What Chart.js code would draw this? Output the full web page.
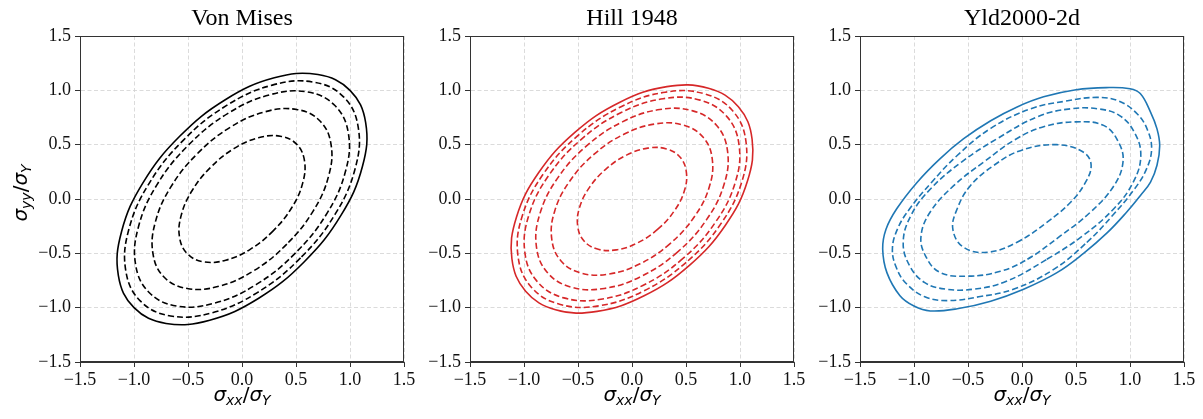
<!DOCTYPE html>
<html><head><meta charset="utf-8">
<script src="https://cdn.jsdelivr.net/npm/chart.js@4.4.1/dist/chart.umd.min.js"></script>
<style>
html,body{margin:0;padding:0;background:#fff;}
#wrap{position:relative;width:1203px;height:419px;overflow:hidden;background:#fff;}
#wrap canvas{position:absolute;top:0;}
</style></head><body>
<div id="wrap">
<canvas id="c1" width="420" height="419" style="left:0px"></canvas>
<canvas id="c2" width="390" height="419" style="left:420px"></canvas>
<canvas id="c3" width="393" height="419" style="left:810px"></canvas>
</div>
<script>
// ---------- labels ----------
const panelTitles = ['Von Mises', 'Hill 1948', 'Yld2000-2d'];
const tickValues = [-1.5, -1.0, -0.5, 0.0, 0.5, 1.0, 1.5];
const xAxisParts = [['σ', 'i'], ['xx', 's'], ['/', 'n'], ['σ', 'i'], ['Y', 's']];
const yAxisParts = [['σ', 'i'], ['yy', 's'], ['/', 'n'], ['σ', 'i'], ['Y', 's']];

// ---------- Von Mises contours (solid outer, dashed inner), closed loops ----------
const vonMises1 = [[0.577,-0.577],[0.151,-0.916],[-0.299,-1.115],[-0.703,-1.145],[-1.000,-1.000],[-1.145,-0.703],[-1.115,-0.299],[-0.916,0.151],[-0.577,0.577],[-0.151,0.916],[0.299,1.115],[0.703,1.145],[1.000,1.000],[1.145,0.703],[1.115,0.299],[0.916,-0.151]];
const vonMises2 = [[0.542,-0.542],[0.142,-0.861],[-0.281,-1.048],[-0.661,-1.076],[-0.940,-0.940],[-1.076,-0.661],[-1.048,-0.281],[-0.861,0.142],[-0.542,0.542],[-0.142,0.861],[0.281,1.048],[0.661,1.076],[0.940,0.940],[1.076,0.661],[1.048,0.281],[0.861,-0.142]];
const vonMises3 = [[0.496,-0.496],[0.130,-0.788],[-0.257,-0.959],[-0.605,-0.985],[-0.860,-0.860],[-0.985,-0.605],[-0.959,-0.257],[-0.788,0.130],[-0.496,0.496],[-0.130,0.788],[0.257,0.959],[0.605,0.985],[0.860,0.860],[0.985,0.605],[0.959,0.257],[0.788,-0.130]];
const vonMises4 = [[0.415,-0.415],[0.109,-0.660],[-0.215,-0.803],[-0.506,-0.824],[-0.720,-0.720],[-0.824,-0.506],[-0.803,-0.215],[-0.660,0.109],[-0.415,0.415],[-0.109,0.660],[0.215,0.803],[0.506,0.824],[0.720,0.720],[0.824,0.506],[0.803,0.215],[0.660,-0.109]];
const vonMises5 = [[0.291,-0.291],[0.076,-0.463],[-0.151,-0.563],[-0.355,-0.578],[-0.505,-0.505],[-0.578,-0.355],[-0.563,-0.151],[-0.463,0.076],[-0.291,0.291],[-0.076,0.463],[0.151,0.563],[0.355,0.578],[0.505,0.505],[0.578,0.355],[0.563,0.151],[0.463,-0.076]];

// ---------- Hill 1948 contours ----------
const hill1 = [[0.529,-0.613],[0.112,-0.891],[-0.323,-1.034],[-0.708,-1.019],[-0.985,-0.849],[-1.112,-0.550],[-1.070,-0.167],[-0.865,0.241],[-0.529,0.613],[-0.112,0.891],[0.323,1.034],[0.708,1.019],[0.985,0.849],[1.112,0.550],[1.070,0.167],[0.865,-0.241]];
const hill2 = [[0.502,-0.583],[0.106,-0.847],[-0.307,-0.983],[-0.672,-0.968],[-0.936,-0.807],[-1.056,-0.522],[-1.017,-0.159],[-0.822,0.229],[-0.502,0.583],[-0.106,0.847],[0.307,0.983],[0.672,0.968],[0.936,0.807],[1.056,0.522],[1.017,0.159],[0.822,-0.229]];
const hill3 = [[0.472,-0.547],[0.100,-0.796],[-0.288,-0.923],[-0.631,-0.910],[-0.879,-0.758],[-0.992,-0.491],[-0.955,-0.149],[-0.772,0.215],[-0.472,0.547],[-0.100,0.796],[0.288,0.923],[0.631,0.910],[0.879,0.758],[0.992,0.491],[0.955,0.149],[0.772,-0.215]];
const hill4 = [[0.421,-0.488],[0.089,-0.710],[-0.257,-0.823],[-0.563,-0.811],[-0.784,-0.676],[-0.885,-0.438],[-0.852,-0.133],[-0.689,0.192],[-0.421,0.488],[-0.089,0.710],[0.257,0.823],[0.563,0.811],[0.784,0.676],[0.885,0.438],[0.852,0.133],[0.689,-0.192]];
const hill5 = [[0.353,-0.410],[0.075,-0.596],[-0.216,-0.691],[-0.473,-0.681],[-0.659,-0.568],[-0.743,-0.368],[-0.716,-0.112],[-0.579,0.161],[-0.353,0.410],[-0.075,0.596],[0.216,0.691],[0.473,0.681],[0.659,0.568],[0.743,0.368],[0.716,0.112],[0.579,-0.161]];
const hill6 = [[0.239,-0.278],[0.051,-0.404],[-0.146,-0.468],[-0.320,-0.461],[-0.446,-0.384],[-0.503,-0.249],[-0.485,-0.076],[-0.392,0.109],[-0.239,0.278],[-0.051,0.404],[0.146,0.468],[0.320,0.461],[0.446,0.384],[0.503,0.249],[0.485,0.076],[0.392,-0.109]];

// ---------- Yld2000-2d contours ----------
const yld1 = [[0.57,-0.50],[0.79,-0.31],[0.97,-0.12],[1.095,0.03],[1.19,0.155],[1.25,0.31],[1.275,0.49],[1.25,0.645],[1.19,0.80],[1.095,0.97],[1.00,1.015],[0.78,1.025],[0.50,1.005],[0.20,0.94],[-0.05,0.845],[-0.29,0.72],[-0.54,0.555],[-0.76,0.37],[-0.97,0.155],[-1.16,-0.09],[-1.26,-0.28],[-1.29,-0.46],[-1.25,-0.68],[-1.13,-0.89],[-1.00,-0.985],[-0.85,-1.03],[-0.60,-1.01],[-0.29,-0.94],[0.015,-0.83],[0.32,-0.68]];
const yld2 = [[0.60,-0.40],[0.84,-0.15],[1.04,0.09],[1.15,0.27],[1.20,0.46],[1.16,0.64],[1.07,0.78],[0.90,0.90],[0.69,0.935],[0.40,0.90],[0.08,0.83],[-0.29,0.65],[-0.60,0.40],[-0.84,0.15],[-1.04,-0.09],[-1.15,-0.27],[-1.20,-0.46],[-1.16,-0.64],[-1.07,-0.78],[-0.90,-0.90],[-0.69,-0.935],[-0.40,-0.90],[-0.08,-0.83],[0.29,-0.65]];
const yld3 = [[0.23,-0.555],[0.56,-0.34],[0.85,-0.09],[1.03,0.155],[1.10,0.40],[1.04,0.615],[0.90,0.77],[0.70,0.83],[0.45,0.83],[0.15,0.76],[-0.23,0.555],[-0.56,0.34],[-0.85,0.09],[-1.03,-0.155],[-1.10,-0.40],[-1.04,-0.615],[-0.90,-0.77],[-0.70,-0.83],[-0.45,-0.83],[-0.15,-0.76]];
const yld4 = [[0.05,-0.555],[0.355,-0.34],[0.635,-0.12],[0.85,0.12],[0.935,0.34],[0.895,0.52],[0.76,0.675],[0.50,0.71],[0.20,0.665],[-0.05,0.555],[-0.355,0.34],[-0.635,0.12],[-0.85,-0.12],[-0.935,-0.34],[-0.895,-0.52],[-0.76,-0.675],[-0.50,-0.71],[-0.20,-0.665]];
const yld5 = [[-0.05,-0.40],[0.23,-0.215],[0.45,-0.03],[0.58,0.14],[0.64,0.31],[0.57,0.43],[0.32,0.50],[-0.015,0.445],[-0.26,0.31],[-0.48,0.12],[-0.60,-0.09],[-0.64,-0.28],[-0.54,-0.445],[-0.32,-0.49]];

const panelColors = ['#000000', '#d62728', '#1f77b4'];
const panelContours = [
  [vonMises1, vonMises2, vonMises3, vonMises4, vonMises5],
  [hill1, hill2, hill3, hill4, hill5, hill6],
  [yld1, yld2, yld3, yld4, yld5]
];

// ---------- drawing helpers ----------
const SERIF = '"Liberation Serif", "Times New Roman", serif';
const SANS = '"DejaVu Sans", sans-serif';
function partFont(kind) {
  if (kind === 'i') return 'italic 20px ' + SANS;
  if (kind === 's') return 'italic 14px ' + SANS;
  return '20px ' + SANS;
}
function drawMath(ctx, cx, cy, rotate, parts) {
  ctx.save();
  ctx.translate(cx, cy);
  if (rotate) ctx.rotate(-Math.PI / 2);
  ctx.textBaseline = 'alphabetic';
  ctx.textAlign = 'left';
  ctx.fillStyle = '#000';
  let total = 0;
  const segs = parts.map(([t, k]) => { ctx.font = partFont(k); const w = ctx.measureText(t).width; total += w; return {t, k, w}; });
  let x = -total / 2;
  segs.forEach(s => {
    ctx.font = partFont(s.k);
    ctx.fillText(s.t, x, s.k === 's' ? 4 : 0);
    x += s.w;
  });
  ctx.restore();
}

// close each contour as a smooth loop (same mechanism Chart.js uses for radar lines)
const loopPlugin = {
  id: 'closedLoops',
  beforeDatasetsDraw(chart) {
    chart.getSortedVisibleDatasetMetas().forEach(meta => {
      const el = meta.dataset;
      if (!el) return;
      el._loop = true;
      el._fullLoop = true;
      el._pointsUpdated = false;
      delete el._segments;
      el._path = undefined;
      if (typeof el.updateControlPoints === 'function') {
        el.updateControlPoints(chart.chartArea, 'x');
      }
    });
  }
};

const decorPlugin = {
  id: 'decor',
  afterDraw(chart, args, opts) {
    const ctx = chart.ctx, a = chart.chartArea;
    ctx.save();
    ctx.strokeStyle = '#333';
    ctx.lineWidth = 1;
    ctx.strokeRect(Math.round(a.left) + 0.5, Math.round(a.top) + 0.5, Math.round(a.right - a.left) - 1, Math.round(a.bottom - a.top) - 1);
    ctx.restore();
    drawMath(ctx, (a.left + a.right) / 2, 401, false, xAxisParts);
    if (opts.yLabel) drawMath(ctx, 27, (a.top + a.bottom) / 2 - 6, true, yAxisParts);
  }
};

function fmt(v) {
  const s = Math.abs(v).toFixed(1);
  return v < -1e-9 ? '\u2212' + s : s;
}

function axis(isX, yWidth) {
  return {
    type: 'linear',
    min: -1.5, max: 1.5,
    afterBuildTicks: s => { s.ticks = tickValues.map(v => ({value: v})); },
    afterFit: s => { if (isX) s.height = 57; else s.width = yWidth; },
    ticks: {
      autoSkip: false, maxRotation: 0,
      padding: isX ? 2 : 4,
      color: '#111',
      font: {family: SERIF, size: 18},
      callback: v => fmt(v)
    },
    grid: {
      display: true, drawOnChartArea: true, drawTicks: true,
      color: '#d2d2d2', lineWidth: 0.8,
      tickLength: 5, tickColor: '#333', tickWidth: 1
    },
    border: {display: true, color: '#333', width: 1, dash: [4, 2.5]}
  };
}

const canvases = ['c1', 'c2', 'c3'];
const yWidths = [80, 50, 50];
const rightPads = [16, 16, 19];

canvases.forEach((id, i) => {
  const datasets = panelContours[i].map((pts, j) => ({
    data: pts.map(([x, y]) => ({x, y})),
    showLine: true,
    borderColor: panelColors[i],
    borderWidth: 1.6,
    borderDash: j === 0 ? [] : [6, 3],
    pointRadius: 0,
    pointHoverRadius: 0,
    tension: 0.4,
    fill: false
  }));
  new Chart(document.getElementById(id), {
    type: 'scatter',
    data: {datasets},
    options: {
      responsive: false,
      animation: false,
      devicePixelRatio: 1,
      events: [],
      layout: {padding: {left: 0, right: rightPads[i], top: 0, bottom: 0}},
      scales: {x: axis(true), y: axis(false, yWidths[i])},
      plugins: {
        legend: {display: false},
        tooltip: {enabled: false},
        title: {
          display: true, text: panelTitles[i], fullSize: false,
          color: '#000',
          font: {family: SERIF, size: 24, weight: 'normal', lineHeight: 1.2},
          padding: {top: 4, bottom: 3.2}
        },
        decor: {yLabel: i === 0}
      }
    },
    plugins: [loopPlugin, decorPlugin]
  });
});
</script>
</body></html>
